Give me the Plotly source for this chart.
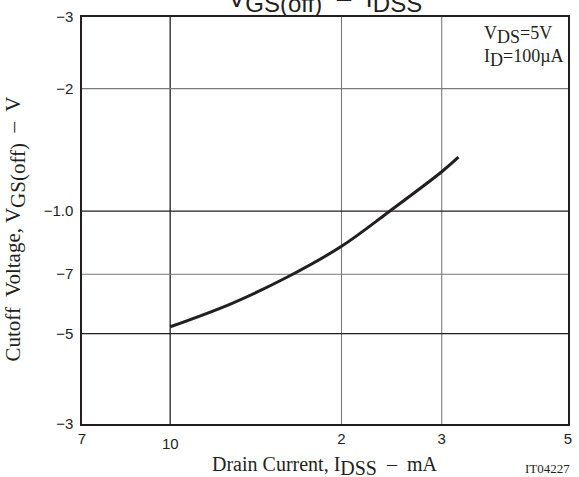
import math
import plotly.graph_objects as go

# Data
idss_mA = [10, 12.85, 16.1, 20, 24.3, 30, 32.1]
vgs_off_V = [-0.52, -0.594, -0.69, -0.82, -1.0, -1.25, -1.357]

x_tickvals = [7, 10, 20, 30, 50]
x_ticktext = ["7", "10", "2", "3", "5"]
y_tickvals = [-3, -2, -1.0, -0.7, -0.5, -0.3]
y_ticktext = ["\u22123", "\u22122", "\u22121.0", "\u22127", "\u22125", "\u22123"]

dark_x = [10]
light_x = [20, 30]
dark_y = [-1.0, -0.5]
light_y = [-2, -0.7]

serif = "Liberation Serif, Times New Roman, serif"
sans = "Liberation Sans, Arial, Helvetica, sans-serif"
ink = "#231f20"


def sub(t, px):
    return "<sub><span style='font-size:%dpx'>%s</span></sub>" % (px, t)


fig = go.Figure()
fig.add_trace(go.Scatter(
    x=idss_mA, y=[abs(v) for v in vgs_off_V], mode="lines",
    line=dict(color=ink, width=3, shape="spline", smoothing=1.0),
    showlegend=False, hoverinfo="skip"))

shapes = []
for xv in dark_x + light_x:
    shapes.append(dict(type="line", xref="x", yref="paper", x0=xv, x1=xv, y0=0, y1=1,
                       line=dict(color=ink if xv in dark_x else "#7a7a7a",
                                 width=1.3 if xv in dark_x else 1.1),
                       layer="below"))
for yv in dark_y + light_y:
    shapes.append(dict(type="line", xref="paper", yref="y", x0=0, x1=1, y0=abs(yv), y1=abs(yv),
                       line=dict(color=ink if yv in dark_y else "#7a7a7a",
                                 width=1.3 if yv in dark_y else 1.1),
                       layer="below"))

fig.update_layout(
    width=579, height=477,
    margin=dict(l=82, r=7, t=17, b=53),
    paper_bgcolor="white", plot_bgcolor="white",
    shapes=shapes,
    showlegend=False,
)

# the "10" label sits a little lower in the reference; draw it as an annotation
x_ticktext_axis = ["" if t == "10" else t for t in x_ticktext]

fig.update_xaxes(
    type="log", range=[math.log10(7), math.log10(50)],
    tickvals=x_tickvals, ticktext=x_ticktext_axis,
    tickfont=dict(family=sans, size=15, color=ink),
    showgrid=False, zeroline=False,
    showline=True, linecolor=ink, linewidth=1.5, mirror=True,
    ticks="", ticklabelstandoff=0,
)
fig.update_yaxes(
    type="log", range=[math.log10(0.3), math.log10(3)],
    tickvals=[abs(v) for v in y_tickvals], ticktext=y_ticktext,
    tickfont=dict(family=sans, size=15, color=ink),
    showgrid=False, zeroline=False,
    showline=True, linecolor=ink, linewidth=1.5, mirror=True,
    ticks="", ticklabelstandoff=4,
)

annotations = [
    dict(text="10", xref="x", yref="paper",
         x=math.log10(x_tickvals[x_ticktext.index("10")]), y=0, xanchor="center", yanchor="top",
         yshift=-9, showarrow=False, font=dict(family=sans, size=15, color=ink)),
    dict(text="Drain Current, I" + sub("DSS", 20) + "  \u2013  mA", xref="paper", yref="paper",
         x=0.5, y=-0.066, xanchor="center", yanchor="top", showarrow=False,
         font=dict(family=serif, size=20, color=ink)),
    dict(text="Cutoff  Voltage, V" + sub("GS(off)", 21) + "  \u2013  V", xref="paper", yref="paper",
         x=-0.138, y=0.48, xanchor="center", yanchor="middle", textangle=-90, showarrow=False,
         font=dict(family=serif, size=21, color=ink)),
    dict(text="IT04227", xref="paper", yref="paper", x=1.0, y=-0.085, xanchor="right", yanchor="top",
         xshift=4, showarrow=False, font=dict(family=serif, size=13, color=ink)),
    dict(text="V" + sub("DS", 18) + "=5V<br>I" + sub("D", 18) + "=100\u00b5A",
         xref="paper", yref="paper",
         x=0.995, y=0.99, xanchor="right", yanchor="top", align="left", showarrow=False,
         font=dict(family=serif, size=18, color=ink)),
    dict(text="V" + sub("GS(off)", 24) + "  \u2013  I" + sub("DSS", 24), xref="paper", yref="paper",
         x=0.5, y=1.0, xanchor="center", yanchor="bottom", yshift=-2, showarrow=False,
         font=dict(family=sans, size=26, color=ink)),
]
fig.update_layout(annotations=annotations)

fig.write_html("out.html")
